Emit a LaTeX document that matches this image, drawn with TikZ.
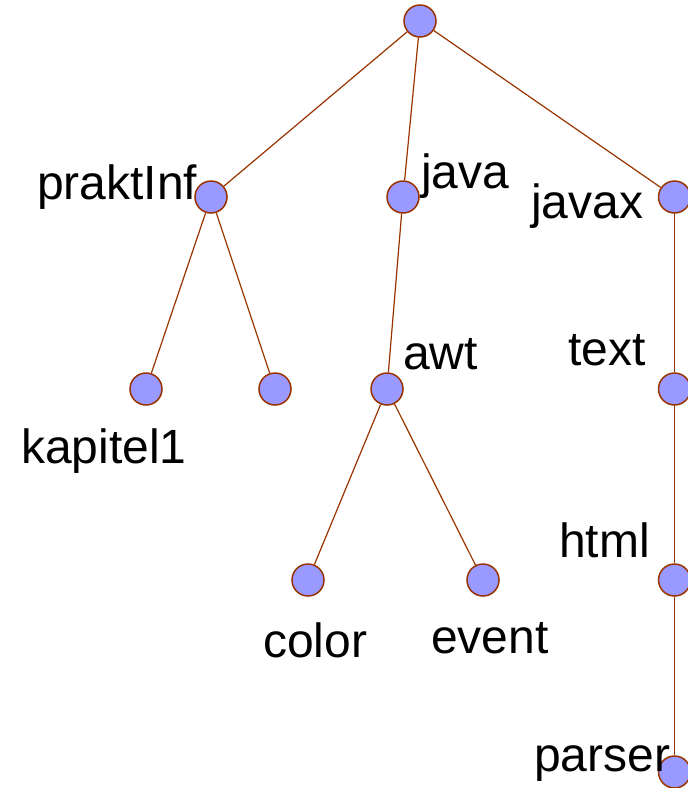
\documentclass[tikz,border=0pt]{standalone}
\usepackage{fontspec}
\setmainfont{Liberation Sans}
\usetikzlibrary{backgrounds}
\definecolor{edgebrown}{HTML}{993300}
\definecolor{dotblue}{HTML}{9999FF}
\tikzset{
  dot/.style={circle, draw=edgebrown, fill=dotblue, line width=1.5pt,
              minimum size=32pt, inner sep=0pt},
  lbl/.style={anchor=base west, inner sep=0pt,
              font=\fontsize{48}{56}\selectfont},
  branch/.style={draw=edgebrown, line width=1.2pt}
}
\begin{document}
\begin{tikzpicture}[x=1pt, y=-1pt]
\useasboundingbox (0,0) rectangle (688,788);
% tree nodes
\node[dot] (root) at (420,21) {};
\node[dot] (prakt) at (211,197) {};
\node[dot] (java) at (403,197) {};
\node[dot] (javax) at (674.5,197) {};
\node[dot] (kap) at (146,389) {};
\node[dot] (anon) at (275,389) {};
\node[dot] (awt) at (387,389) {};
\node[dot] (text) at (674.5,389) {};
\node[dot] (color) at (308,580) {};
\node[dot] (event) at (483,580) {};
\node[dot] (html) at (674.5,580) {};
\node[dot] (parser) at (674.5,772) {};
% labels
\node[lbl] (lprakt) at (37,199) {praktInf};
\node[lbl] (ljava) at (421,188) {java};
\node[lbl] (ljavax) at (531,218) {javax};
\node[lbl] (lkap) at (21,463) {kapitel1};
\node[lbl] (lawt) at (403,369) {awt};
\node[lbl] (ltext) at (568,365) {text};
\node[lbl] (lcolor) at (263,657) {color};
\node[lbl] (levent) at (431,653) {event};
\node[lbl] (lhtml) at (559,557) {html};
\node[lbl] (lparser) at (534,771) {parser};
% branches
\begin{scope}[on background layer]
\draw[branch] (root) -- (prakt);
\draw[branch] (root) -- (java);
\draw[branch] (root) -- (javax);
\draw[branch] (prakt) -- (kap);
\draw[branch] (prakt) -- (anon);
\draw[branch] (java) -- (awt);
\draw[branch] (awt) -- (color);
\draw[branch] (awt) -- (event);
\draw[branch] (javax) -- (text);
\draw[branch] (text) -- (html);
\draw[branch] (html) -- (parser);
\end{scope}
\end{tikzpicture}
\end{document}
